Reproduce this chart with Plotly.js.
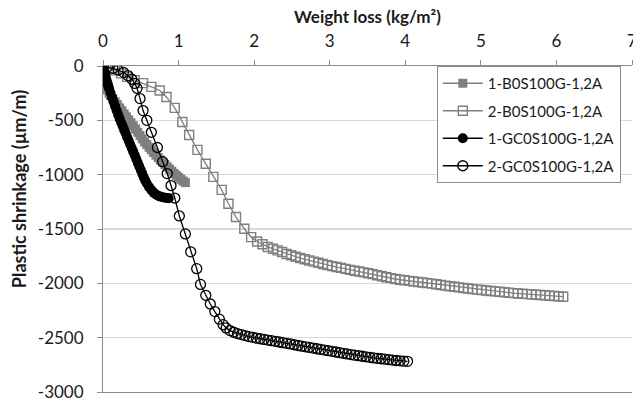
<!DOCTYPE html>
<html>
<head>
<meta charset="utf-8">
<script src="https://cdn.plot.ly/plotly-3.0.1.min.js"></script>
<style>html,body{margin:0;padding:0;background:#fff;}#chart{width:633px;height:401px;}</style>
</head>
<body>
<div id="chart"></div>
<script>
// ---- Data ----
var seriesNames = ["1-B0S100G-1,2A", "2-B0S100G-1,2A", "1-GC0S100G-1,2A", "2-GC0S100G-1,2A"];

var x1 = [0, 0.01, 0.02, 0.03, 0.04, 0.06, 0.08, 0.1, 0.13, 0.16, 0.19, 0.22, 0.25, 0.28, 0.31, 0.34, 0.37, 0.4, 0.43, 0.46, 0.49, 0.52, 0.55, 0.58, 0.61, 0.64, 0.67, 0.7, 0.73, 0.76, 0.79, 0.82, 0.85, 0.88, 0.91, 0.94, 0.97, 1.0, 1.03, 1.06, 1.09];
var y1 = [0, -40, -90, -140, -180, -220, -250, -272, -300, -328, -355, -385, -412, -440, -468, -495, -522, -550, -580, -610, -640, -670, -698, -723, -748, -772, -796, -820, -843, -865, -886, -907, -928, -948, -968, -988, -1006, -1024, -1042, -1058, -1073];

var x2 = [0, 0.08, 0.16, 0.24, 0.32, 0.42, 0.53, 0.64, 0.75, 0.84, 0.95, 1.05, 1.14, 1.25, 1.36, 1.46, 1.57, 1.66, 1.76, 1.87, 1.96, 2.04, 2.11, 2.18, 2.25, 2.31, 2.37, 2.43, 2.49, 2.55, 2.61, 2.67, 2.73, 2.79, 2.85, 2.91, 2.97, 3.03, 3.09, 3.15, 3.21, 3.27, 3.33, 3.39, 3.45, 3.51, 3.57, 3.63, 3.69, 3.75, 3.81, 3.87, 3.93, 3.99, 4.05, 4.11, 4.17, 4.23, 4.29, 4.35, 4.41, 4.47, 4.53, 4.59, 4.65, 4.71, 4.77, 4.83, 4.89, 4.95, 5.01, 5.07, 5.13, 5.19, 5.25, 5.31, 5.37, 5.43, 5.49, 5.55, 5.61, 5.67, 5.73, 5.79, 5.85, 5.91, 5.97, 6.03, 6.09];
var y2 = [0, -20, -40, -68, -100, -130, -158, -192, -225, -285, -385, -515, -635, -772, -900, -1020, -1140, -1268, -1390, -1498, -1575, -1615, -1640, -1665, -1682, -1697, -1712, -1730, -1742, -1755, -1767, -1778, -1790, -1800, -1810, -1822, -1832, -1842, -1850, -1858, -1867, -1876, -1884, -1891, -1899, -1907, -1915, -1925, -1935, -1944, -1952, -1960, -1967, -1972, -1977, -1983, -1988, -1993, -1998, -2003, -2009, -2015, -2021, -2027, -2032, -2037, -2043, -2048, -2053, -2058, -2062, -2066, -2070, -2074, -2078, -2082, -2086, -2090, -2093, -2096, -2099, -2102, -2105, -2108, -2111, -2114, -2117, -2120, -2123];

var x3 = [0, 0.01, 0.02, 0.03, 0.04, 0.05, 0.06, 0.07, 0.08, 0.1, 0.12, 0.14, 0.16, 0.18, 0.2, 0.22, 0.24, 0.26, 0.28, 0.3, 0.32, 0.34, 0.36, 0.38, 0.4, 0.42, 0.44, 0.46, 0.48, 0.5, 0.52, 0.54, 0.56, 0.58, 0.61, 0.64, 0.67, 0.7, 0.73, 0.76, 0.79, 0.82, 0.85, 0.87];
var y3 = [0, -25, -55, -85, -112, -138, -162, -185, -207, -248, -290, -330, -370, -410, -448, -485, -520, -553, -588, -620, -655, -688, -722, -755, -788, -822, -856, -890, -924, -958, -992, -1025, -1055, -1082, -1115, -1142, -1165, -1182, -1194, -1202, -1208, -1212, -1215, -1217];

var x4 = [0, 0.06, 0.13, 0.2, 0.27, 0.33, 0.38, 0.42, 0.45, 0.49, 0.53, 0.58, 0.64, 0.72, 0.79, 0.85, 0.9, 0.95, 1.01, 1.09, 1.16, 1.24, 1.29, 1.36, 1.42, 1.48, 1.54, 1.59, 1.63, 1.68, 1.73, 1.78, 1.83, 1.88, 1.93, 1.98, 2.03, 2.08, 2.13, 2.18, 2.23, 2.28, 2.33, 2.38, 2.43, 2.48, 2.53, 2.58, 2.63, 2.68, 2.73, 2.78, 2.83, 2.88, 2.93, 2.98, 3.03, 3.08, 3.13, 3.18, 3.23, 3.28, 3.33, 3.38, 3.43, 3.48, 3.53, 3.58, 3.63, 3.68, 3.73, 3.78, 3.83, 3.88, 3.93, 3.98, 4.03];
var y4 = [0, -8, -22, -37, -58, -88, -120, -160, -205, -300, -410, -500, -610, -750, -880, -990, -1100, -1215, -1380, -1545, -1710, -1865, -2010, -2110, -2190, -2260, -2330, -2380, -2410, -2435, -2450, -2462, -2472, -2481, -2490, -2497, -2504, -2510, -2516, -2522, -2528, -2534, -2540, -2546, -2552, -2558, -2565, -2572, -2578, -2584, -2590, -2596, -2602, -2608, -2614, -2620, -2626, -2632, -2638, -2644, -2650, -2656, -2661, -2666, -2671, -2676, -2681, -2686, -2690, -2694, -2698, -2702, -2706, -2710, -2713, -2716, -2718];

var yTickVals = [0, -500, -1000, -1500, -2000, -2500, -3000];
var yTickLabels = ["0", "-500", "-1000", "-1500", "-2000", "-2500", "-3000"];
var xTitle = "Weight loss (kg/m²)";
var yTitle = "Plastic shrinkage (µm/m)";

var FONT = "Lato, 'Open Sans', sans-serif";
var GRAY = "#7f7f7f";
var TXT = "#1a1a1a";
var AXC = "#8c8c8c";

var traces = [
  {x: x1, y: y1, name: seriesNames[0], legendgroup: "a", mode: "lines+markers",
   line: {color: GRAY, width: 1.5}, marker: {symbol: "square", size: 9, color: GRAY}},
  {x: x2, y: y2, name: seriesNames[1], legendgroup: "b", mode: "lines+markers",
   line: {color: GRAY, width: 1.3}, marker: {symbol: "square-open", size: 9, color: GRAY, line: {width: 1.4}}},
  {x: x3, y: y3, name: seriesNames[2], legendgroup: "c", mode: "lines+markers",
   line: {color: "#000", width: 1.5}, marker: {symbol: "circle", size: 10, color: "#000"}},
  {x: x4, y: y4, name: seriesNames[3], legendgroup: "d", mode: "lines+markers",
   line: {color: "#000", width: 1.3}, marker: {symbol: "circle-open", size: 10, color: "#000", line: {width: 1.3}}}
];

var layout = {
  width: 633, height: 401,
  margin: {l: 103, r: 1, t: 66, b: 9},
  paper_bgcolor: "#fff", plot_bgcolor: "#fff",
  font: {family: FONT, size: 17, color: TXT},
  showlegend: true,
  legend: {
    x: 0.631, xanchor: "left", y: 1, yanchor: "top",
    bgcolor: "#fff", bordercolor: AXC, borderwidth: 1,
    font: {family: FONT, size: 15, color: TXT},
    tracegroupgap: 5, traceorder: "grouped", itemwidth: 40,
    entrywidth: 160
  },
  xaxis: {
    side: "top", range: [0, 7], dtick: 1, tick0: 0,
    ticks: "outside", ticklen: 5, tickcolor: AXC,
    showline: true, linecolor: AXC, linewidth: 1, mirror: true,
    showgrid: false, zeroline: false, ticklabelstandoff: 6,
    ticklabeloverflow: "allow",
    tickfont: {family: FONT, size: 17, color: TXT},
    title: {text: xTitle, font: {family: FONT, size: 17, color: TXT, weight: "bold"}, standoff: 2}
  },
  yaxis: {
    range: [-3000, 0], tickmode: "array", tickvals: yTickVals, ticktext: yTickLabels,
    ticks: "outside", ticklen: 5, tickcolor: AXC,
    showline: true, linecolor: AXC, linewidth: 1,
    showgrid: true, gridcolor: "#d9d9d9", gridwidth: 1.5, zeroline: false,
    ticklabelstandoff: 10, ticklabeloverflow: "allow",
    tickfont: {family: FONT, size: 17, color: TXT}
  },
  annotations: [{
    text: yTitle, textangle: -90, showarrow: false,
    xref: "paper", yref: "paper", x: -84 / 530, y: (392 - 189) / 326,
    xanchor: "center", yanchor: "middle",
    font: {family: FONT, size: 18, color: TXT, weight: "bold"}
  }]
};

Plotly.newPlot("chart", traces, layout, {displayModeBar: false, staticPlot: true});
</script>
</body>
</html>
